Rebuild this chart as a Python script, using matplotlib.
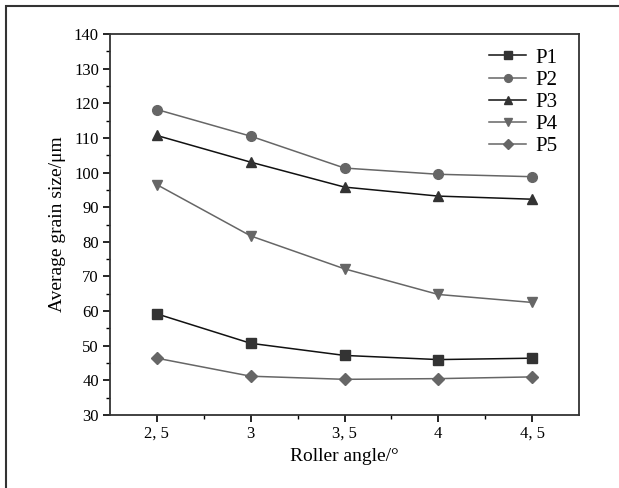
import matplotlib
matplotlib.use("Agg")
import matplotlib.pyplot as plt
from matplotlib.patches import Rectangle

x = [2.5, 3.0, 3.5, 4.0, 4.5]
xtick_labels = ["2, 5", "3", "3, 5", "4", "4, 5"]
p1 = [59.2, 50.7, 47.2, 46.0, 46.4]
p2 = [118.2, 110.5, 101.3, 99.5, 98.8]
p3 = [110.7, 103.0, 95.8, 93.2, 92.3]
p4 = [96.5, 81.7, 72.2, 64.8, 62.5]
p5 = [46.4, 41.2, 40.3, 40.5, 41.0]
series = [("P1", p1), ("P2", p2), ("P3", p3), ("P4", p4), ("P5", p5)]
styles = {
    "P1": dict(marker="s", color="#111111", mfc="#333333"),
    "P2": dict(marker="o", color="#666666", mfc="#666666"),
    "P3": dict(marker="^", color="#111111", mfc="#333333"),
    "P4": dict(marker="v", color="#666666", mfc="#666666"),
    "P5": dict(marker="D", color="#666666", mfc="#666666"),
}

plt.rcParams['font.family'] = ['Liberation Serif', 'DejaVu Serif']

fig = plt.figure(figsize=(6.19, 4.88), dpi=100)
ax = fig.add_axes([110/619, 1 - 415/488, (579-110)/619, (415-34)/488])

for name, vals in series:
    st = styles[name]
    ms = 6 if st["marker"] == "D" else 7
    ax.plot(x, vals, marker=st["marker"], color=st["color"], mfc=st["mfc"],
            mec=st["mfc"], lw=1.1, ms=ms, label=name)

ax.set_xlim(2.25, 4.75)
ax.set_ylim(30, 140)
ax.set_xticks(x)
ax.set_xticklabels(xtick_labels)
ax.set_xticks([2.75, 3.25, 3.75, 4.25], minor=True)
ax.set_yticks(range(30, 141, 10))
ax.set_yticks(range(35, 140, 10), minor=True)
ax.tick_params(which="major", direction="out", length=5, width=1.2, labelsize=12, pad=3)
ax.tick_params(which="minor", direction="out", length=3, width=1.0)
for s in ax.spines.values():
    s.set_linewidth(1.3)
    s.set_color("#333333")

ax.set_xlabel("Roller angle/°", fontsize=14, labelpad=4)
ax.set_ylabel("Average grain size/μm", fontsize=14, labelpad=6)

leg = ax.legend(loc="upper right", frameon=False, fontsize=15, handlelength=1.8,
                handletextpad=0.45, labelspacing=0.12, markerscale=0.8,
                bbox_to_anchor=(0.995, 1.012))

fig.add_artist(Rectangle((6/619, -0.05), 1.1, 1 - 6/488 + 0.05, transform=fig.transFigure,
                         fill=False, lw=1.5, ec="#333333"))

fig.savefig("out.png", dpi=100)
